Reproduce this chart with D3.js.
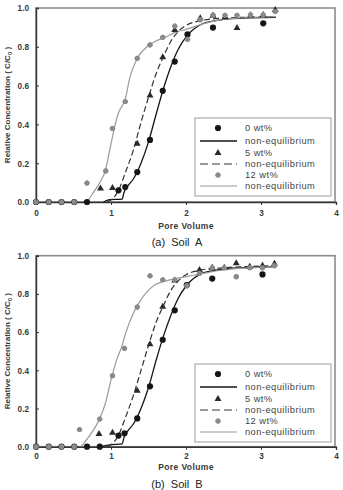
<!DOCTYPE html>
<html><head><meta charset="utf-8">
<script src="https://cdn.jsdelivr.net/npm/d3@7"></script>
<style>
html,body{margin:0;padding:0;background:#fff;}
svg{display:block;}
text{font-family:"Liberation Sans",Arial,sans-serif;}
</style></head>
<body>
<svg id="c" width="343" height="490"></svg>
<script>
// ---------- data ----------
const xTicks = [0, 1, 2, 3, 4];
const yTicks = [0.0, 0.2, 0.4, 0.6, 0.8, 1.0];
const seriesNames = ["0 wt%", "non-equilibrium", "5 wt%", "non-equilibrium", "12 wt%", "non-equilibrium"];
const captions = ["(a)  Soil  A", "(b)  Soil  B"];

// Soil A measured points [pore volume, C/C0]
const a0 = [[0,0],[0.17,0],[0.34,0],[0.51,0],[0.68,0],[1.10,0.06],[1.19,0.077],[1.35,0.154],[1.52,0.32],[1.69,0.573],[1.85,0.724],[2.02,0.864],[2.36,0.899],[3.03,0.921]];
const a5 = [[0.86,0.069],[1.02,0.072],[1.35,0.30],[1.52,0.549],[1.69,0.746],[1.85,0.887],[2.19,0.947],[2.36,0.96],[2.52,0.952],[2.68,0.897],[2.86,0.962],[3.03,0.964],[3.19,0.99]];
const a12 = [[0,0],[0.17,0],[0.34,0],[0.51,0],[0.68,0.098],[0.93,0.16],[1.02,0.379],[1.19,0.518],[1.35,0.741],[1.52,0.81],[1.69,0.849],[1.85,0.907],[2.02,0.839],[2.19,0.94],[2.36,0.964],[2.52,0.962],[2.68,0.962],[2.86,0.965],[3.03,0.965],[3.19,0.982]];
// Soil A model curves
const a0Fit = [[0.9,0],[0.98,0.012],[1.15,0.015],[1.17,0.045],[1.22,0.08],[1.3,0.12],[1.4,0.2],[1.5,0.31],[1.6,0.45],[1.7,0.585],[1.8,0.7],[1.9,0.79],[2.0,0.85],[2.1,0.89],[2.2,0.915],[2.4,0.935],[2.6,0.945],[3.2,0.952]];
const a5Fit = [[0.95,0],[1.03,0.02],[1.1,0.06],[1.19,0.15],[1.3,0.27],[1.4,0.41],[1.5,0.54],[1.6,0.66],[1.7,0.75],[1.8,0.83],[1.9,0.88],[2.0,0.91],[2.2,0.935],[2.5,0.948],[3.2,0.955]];
const a12Fit = [[0.68,0],[0.75,0.04],[0.85,0.1],[0.92,0.156],[1.0,0.3],[1.05,0.39],[1.1,0.46],[1.19,0.53],[1.25,0.64],[1.35,0.74],[1.48,0.80],[1.6,0.83],[1.7,0.845],[1.88,0.878],[2.0,0.89],[2.2,0.915],[2.4,0.935],[2.6,0.945],[3.2,0.955]];

// Soil B measured points
const b0 = [[0,0],[0.17,0],[0.34,0],[0.51,0],[0.68,0],[0.85,0],[1.10,0.058],[1.18,0.07],[1.35,0.148],[1.52,0.316],[1.69,0.56],[1.85,0.714],[2.01,0.846],[2.35,0.88],[3.02,0.902]];
const b5 = [[0.84,0.066],[1.02,0.073],[1.35,0.293],[1.52,0.536],[1.69,0.733],[1.85,0.87],[2.18,0.925],[2.35,0.937],[2.51,0.937],[2.67,0.96],[2.85,0.942],[3.02,0.948],[3.18,0.958]];
const b12 = [[0,0],[0.17,0],[0.34,0],[0.51,0],[0.58,0.09],[0.85,0.145],[1.02,0.372],[1.18,0.515],[1.35,0.731],[1.52,0.895],[1.69,0.874],[1.85,0.874],[2.01,0.843],[2.18,0.908],[2.35,0.937],[2.51,0.937],[2.67,0.89],[2.85,0.937],[3.02,0.937],[3.18,0.948]];
// Soil B model curves
const b0Fit = [[0.85,0],[0.98,0.01],[1.15,0.015],[1.17,0.045],[1.22,0.08],[1.3,0.12],[1.4,0.2],[1.5,0.31],[1.6,0.45],[1.7,0.58],[1.8,0.69],[1.9,0.78],[2.0,0.84],[2.1,0.88],[2.2,0.905],[2.4,0.925],[2.6,0.935],[3.2,0.942]];
const b5Fit = [[0.95,0],[1.03,0.02],[1.1,0.06],[1.19,0.15],[1.3,0.27],[1.4,0.4],[1.5,0.53],[1.6,0.65],[1.7,0.74],[1.8,0.82],[1.9,0.87],[2.0,0.9],[2.2,0.925],[2.5,0.937],[3.2,0.947]];
const b12Fit = [[0.6,0],[0.7,0.05],[0.85,0.148],[0.92,0.22],[1.01,0.366],[1.08,0.46],[1.14,0.52],[1.2,0.6],[1.3,0.7],[1.4,0.77],[1.5,0.82],[1.6,0.85],[1.7,0.865],[1.8,0.875],[2.0,0.89],[2.2,0.905],[2.4,0.92],[2.6,0.93],[3.2,0.94]];

// ---------- drawing ----------
const svg = d3.select("#c");
const panels = [
  {top: 8, bottom: 202, pts: [a0, a5, a12], fits: [a0Fit, a5Fit, a12Fit], caption: captions[0], tickY: 215.5, titleY: 228.5, capY: 246, legTop: 118},
  {top: 255.7, bottom: 446.7, pts: [b0, b5, b12], fits: [b0Fit, b5Fit, b12Fit], caption: captions[1], tickY: 459, titleY: 469.5, capY: 488, legTop: 364}
];
const left = 36, right = 336;
const black = "#151515", grey = "#8a8a8a", greyLine = "#9a9a9a";

const triPath = d3.symbol().type(d3.symbolTriangle).size(21)();
const diaPath = d3.symbol().type(d3.symbolDiamond).size(20)();
const crossPath = d3.symbol().type(d3.symbolCross).size(15)();

function drawMarkers(g, data, kind, x, y) {
  const sel = g.selectAll(null).data(data).enter();
  if (kind === 0) {
    sel.append("circle").attr("cx", d => x(d[0])).attr("cy", d => y(d[1])).attr("r", 3.1).attr("fill", black);
  } else if (kind === 1) {
    sel.append("path").attr("d", triPath).attr("transform", d => `translate(${x(d[0])},${y(d[1])})`).attr("fill", "#2a2a2a");
  } else {
    sel.append("circle").attr("cx", d => x(d[0])).attr("cy", d => y(d[1])).attr("r", 2.6).attr("fill", grey);
    sel.append("path").attr("d", crossPath).attr("transform", d => `translate(${x(d[0])},${y(d[1])})`).attr("fill", grey);
  }
}

panels.forEach(p => {
  const x = d3.scaleLinear().domain([0, 4]).range([left, right]);
  const y = d3.scaleLinear().domain([0, 1]).range([p.bottom, p.top]);
  const g = svg.append("g");

  // frame (grey top/right)
  g.append("rect").attr("x", left).attr("y", p.top).attr("width", right - 1 - left).attr("height", p.bottom - p.top)
    .attr("fill", "none").attr("stroke", "#8c8c8c").attr("stroke-width", 1.6);

  // axes
  const xa = g.append("g").attr("transform", `translate(0,${p.bottom})`)
    .call(d3.axisBottom(x).tickValues(xTicks).tickSize(3).tickFormat(d3.format("d")));
  const ya = g.append("g").attr("transform", `translate(${left},0)`)
    .call(d3.axisLeft(y).tickValues(yTicks).tickSize(-3).tickFormat(d3.format(".1f")));
  [xa, ya].forEach(a => {
    a.select(".domain").attr("stroke", "#333").attr("stroke-width", 1.4);
    a.selectAll(".tick line").attr("stroke", "#333");
    a.selectAll("text").attr("font-size", 8.2).attr("font-weight", "bold").attr("fill", "#3a3a3a").attr("font-family", "Liberation Sans, Arial, sans-serif");
  });
  xa.selectAll(".tick text").attr("y", 0).attr("dy", null).attr("transform", `translate(0,${p.tickY - p.bottom})`);
  ya.selectAll(".tick text").attr("x", -7).attr("dy", "0.35em");

  // curves
  const line = d3.line().x(d => x(d[0])).y(d => y(d[1])).curve(d3.curveMonotoneX);
  const styles = [
    {stroke: black, w: 1.3, dash: null},
    {stroke: "#333", w: 1.2, dash: "6,3"},
    {stroke: greyLine, w: 1.2, dash: null}
  ];
  p.fits.forEach((f, i) => {
    g.append("path").datum(f).attr("d", line).attr("fill", "none")
      .attr("stroke", styles[i].stroke).attr("stroke-width", styles[i].w)
      .attr("stroke-dasharray", styles[i].dash);
  });

  // markers
  p.pts.forEach((d, i) => drawMarkers(g, d, i, x, y));

  // axis titles
  g.append("text").attr("x", (left + right) / 2).attr("y", p.titleY).attr("text-anchor", "middle")
    .attr("font-size", 8.5).attr("font-weight", "bold").attr("fill", "#3a3a3a").attr("letter-spacing", 0.4).text("Pore Volume");
  const yt = g.append("text").attr("transform", `translate(9.5,${(p.top + p.bottom) / 2}) rotate(-90)`)
    .attr("text-anchor", "middle").attr("font-size", 8).attr("font-weight", "bold").attr("fill", "#3a3a3a");
  yt.append("tspan").text("Relative Concentration ( C/C");
  yt.append("tspan").attr("font-size", 6).attr("dy", 2).text("0");
  yt.append("tspan").attr("dy", -2).text(" )");

  // caption
  g.append("text").attr("x", 177).attr("y", p.capY).attr("text-anchor", "middle")
    .attr("font-family", "Liberation Serif, Times New Roman, serif").attr("font-size", 11).attr("fill", "#222")
    .attr("xml:space", "preserve").style("white-space", "pre").text(p.caption);

  // legend
  const lg = g.append("g");
  lg.append("rect").attr("x", 195).attr("y", p.legTop).attr("width", 136).attr("height", 78)
    .attr("fill", "#fff").attr("stroke", "#9a9a9a").attr("stroke-width", 1);
  const rowY = [10, 23, 35, 46, 57, 68];
  seriesNames.forEach((name, i) => {
    const yy = p.legTop + rowY[i];
    lg.append("text").attr("x", 245).attr("y", yy).attr("dy", "0.35em").attr("font-size", 9.3)
      .attr("letter-spacing", 0.45).attr("fill", "#444").text(name);
    if (i % 2 === 0) {
      drawMarkers(lg, [[0, 0]], i / 2, () => 218, () => yy);
    } else {
      const s = styles[(i - 1) / 2];
      lg.append("line").attr("x1", 200).attr("x2", 237).attr("y1", yy).attr("y2", yy)
        .attr("stroke", s.stroke).attr("stroke-width", s.w).attr("stroke-dasharray", i === 3 ? "8,4" : s.dash);
    }
  });
});
</script>
</body></html>
